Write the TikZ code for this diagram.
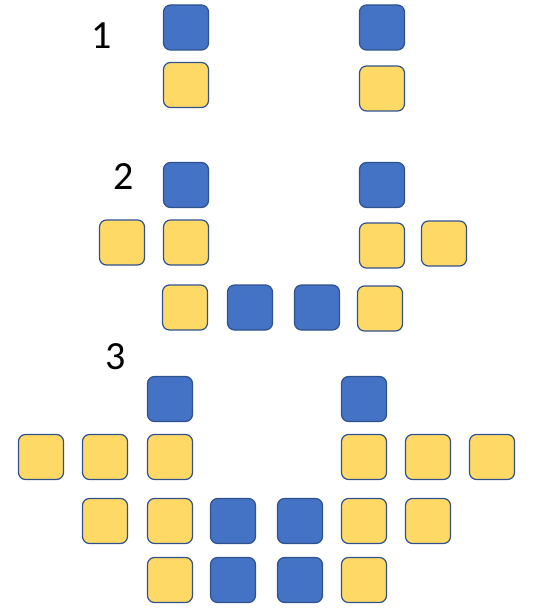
\documentclass[tikz,border=0pt]{standalone}
\usepackage{fontspec}
\setmainfont{Carlito}
\definecolor{tileblue}{HTML}{4472C4}
\definecolor{tileyellow}{HTML}{FFD966}
\definecolor{tileedge}{HTML}{2F528F}

\begin{document}
\begin{tikzpicture}[x=1pt, y=-1pt,
    tile/.style={draw=tileedge, line width=1.2pt, rounded corners=7pt,
      minimum size=45pt, inner sep=0pt},
    bluetile/.style={tile, fill=tileblue},
    yellowtile/.style={tile, fill=tileyellow},
    stagenum/.style={anchor=base, inner sep=0pt,
      font=\fontsize{40}{41}\selectfont}]
  \useasboundingbox (0,0) rectangle (533,612);

  % stage 1
  \node[stagenum] (n1) at (102,49) {1};
  \node[bluetile]   (s1bl) at (186,27.5) {};
  \node[bluetile]   (s1br) at (382,27.5) {};
  \node[yellowtile] (s1yl) at (186,85)   {};
  \node[yellowtile] (s1yr) at (382,88.5) {};

  % stage 2
  \node[stagenum] (n2) at (124,190) {2};
  \node[bluetile]   (s2bl) at (186,185)   {};
  \node[bluetile]   (s2br) at (382,185)   {};
  \node[yellowtile] (s2ya) at (122,242.5) {};
  \node[yellowtile] (s2yb) at (186,242.5) {};
  \node[yellowtile] (s2yc) at (382,245.5) {};
  \node[yellowtile] (s2yd) at (444,243.5) {};
  \node[yellowtile] (s2ye) at (185,307.5) {};
  \node[bluetile]   (s2bc) at (250,307.5) {};
  \node[bluetile]   (s2bd) at (317,307.5) {};
  \node[yellowtile] (s2yf) at (380,308.5) {};

  % stage 3
  \node[stagenum] (n3) at (116,369) {3};
  \node[bluetile] (s3bl) at (170,399) {};
  \node[bluetile] (s3br) at (364,399) {};
  \foreach \x/\id in {41/a,105/b,170/c,364/d,428/e,492/f}
    \node[yellowtile] (s3r1\id) at (\x,457) {};
  \foreach \x/\id/\kind in {105/a/yellowtile,170/b/yellowtile,233/c/bluetile,
      300/d/bluetile,364/e/yellowtile,428/f/yellowtile}
    \node[\kind] (s3r2\id) at (\x,521) {};
  \foreach \x/\id/\kind in {170/a/yellowtile,233/b/bluetile,300/c/bluetile,
      364/d/yellowtile}
    \node[\kind] (s3r3\id) at (\x,580) {};
\end{tikzpicture}
\end{document}
